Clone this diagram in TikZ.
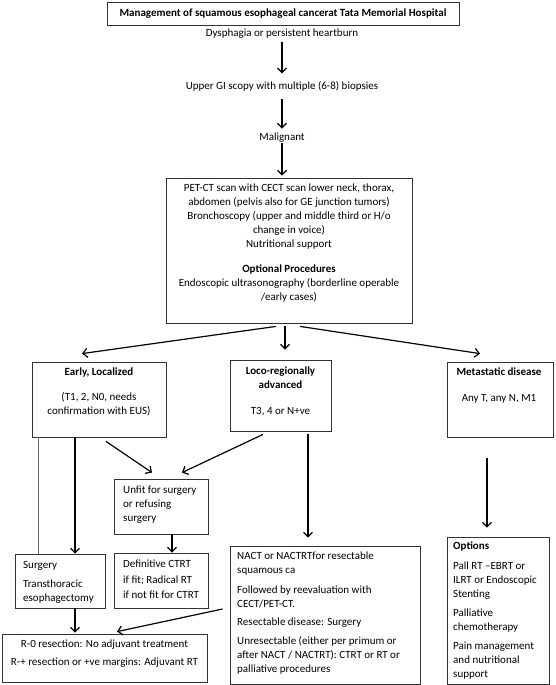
\documentclass[tikz,border=0pt]{standalone}
\usepackage{fontspec}
\setmainfont{Carlito}
\usetikzlibrary{arrows.meta}
\begin{document}
\begin{tikzpicture}[x=1pt,y=-1pt,
  box/.style={draw=black!80, line width=0.8pt, inner sep=0pt},
  txt/.style={inner sep=0pt, font=\fontsize{11pt}{14pt}\selectfont},
  txtw/.style={inner sep=0pt, font=\fontsize{11pt}{15.3pt}\selectfont},
  arr/.style={draw=black, line width=1.2pt, -{Straight Barb[length=4.5pt,width=9pt,line width=1.2pt]}},
  thinline/.style={draw=black!60, line width=0.8pt}]
\useasboundingbox[fill=white] (0,0) rectangle (555,685);

% title and top chain
\node[box, minimum width=352pt, minimum height=23pt, font=\fontsize{11pt}{14pt}\selectfont\bfseries] (title) at (283,13.5) {Management of squamous esophageal cancerat Tata Memorial Hospital};
\node[txt] (dys) at (282,34) {Dysphagia or persistent heartburn};
\node[txt] (ugi) at (282,86) {Upper GI scopy with multiple (6-8) biopsies};
\node[txt] (mal) at (282,138) {Malignant};

% big box
\node[box, minimum width=246pt, minimum height=145pt] (big) at (289,250.5) {};
\node[txt, align=center, anchor=north] (bigT) at (289,184) {PET-CT scan with CECT scan lower neck, thorax,\\abdomen (pelvis also for GE junction tumors)\\Bronchoscopy (upper and middle third or H/o\\change in voice)\\Nutritional support\\[11pt]\textbf{Optional Procedures}\\Endoscopic ultrasonography (borderline operable\\/early cases)};

% second row
\node[box, minimum width=134pt, minimum height=75pt] (early) at (99,399.5) {};
\node[txt, align=center, anchor=north] (earlyT) at (99,368) {\textbf{Early, Localized}\\[11pt](T1, 2, N0, needs\\confirmation with EUS)};
\node[box, minimum width=101pt, minimum height=71pt] (loco) at (280.5,395.5) {};
\node[txt, align=center, anchor=north] (locoT) at (280.5,367) {\textbf{Loco-regionally}\\\textbf{advanced}\\[12pt]T3, 4 or N+ve};
\node[box, minimum width=106pt, minimum height=75pt] (meta) at (500,399.5) {};
\node[txt, align=center, anchor=north] (metaT) at (499,368) {\textbf{Metastatic disease}\\[12pt]Any T, any N, M1};

% third row
\node[box, minimum width=94pt, minimum height=55pt] (unfit) at (161,506.5) {};
\node[txt, align=left, anchor=north west] (unfitT) at (123,486) {Unfit for surgery\\or refusing\\surgery};
\node[box, minimum width=94pt, minimum height=55pt] (def) at (161,580.5) {};
\node[txtw, align=left, anchor=north west] (defT) at (123,560) {Definitive CTRT\\if fit; Radical RT\\if not fit for CTRT};
\node[box, minimum width=90pt, minimum height=54pt] (surg) at (60,581) {};
\node[txt, align=left, anchor=north west] (surgT) at (23,561) {Surgery\\[5pt]Transthoracic\\esophagectomy};
\node[box, minimum width=205pt, minimum height=48pt] (r0) at (104.5,658) {};
\node[txt, align=center, anchor=north] (r0T) at (104.5,640) {R-0 resection: No adjuvant treatment\\[4pt]R-+ resection or +ve margins: Adjuvant RT};
\node[box, minimum width=190pt, minimum height=138pt] (nact) at (325,615) {};
\node[txt, align=left, anchor=north west] (nactT) at (237,552) {NACT or NACTRTfor resectable\\squamous ca\\[6pt]Followed by reevaluation with\\CECT/PET-CT.\\[4pt]Resectable disease: Surgery\\[5pt]Unresectable (either per primum or\\after NACT / NACTRT): CTRT or RT or\\palliative procedures};
\node[box, minimum width=102pt, minimum height=147pt] (opt) at (498,610.5) {};
\node[txt, align=left, anchor=north west] (optT) at (453,542) {\textbf{Options}\\[6pt]Pall RT –EBRT or\\ILRT or Endoscopic\\Stenting\\[5pt]Palliative\\chemotherapy\\[5pt]Pain management\\and nutritional\\support};

% connectors
\draw[arr, shorten <=3pt, shorten >=7.5pt] (dys.south) -- (ugi.north);
\draw[arr, shorten <=7.5pt, shorten >=4.5pt] (ugi.south) -- (mal.north);
\draw[arr, shorten >=2pt] (mal.south) -- (big.north -| mal.south);
\draw[arr] ([xshift=-13pt,yshift=-3pt]big.south) -- ([xshift=-17pt,yshift=8pt]early.north);
\draw[arr] ([xshift=-4pt,yshift=-3pt]big.south) -- ([xshift=4.5pt,yshift=10pt]loco.north);
\draw[arr] ([xshift=11pt,yshift=-3pt]big.south) -- ([xshift=-20pt,yshift=8pt]meta.north);
\draw[thinline] ([xshift=-61pt]early.south) -- ([xshift=-22pt]surg.north);
\draw[arr] ([xshift=-24pt]early.south) -- ([xshift=15pt]surg.north);
\draw[arr] ([xshift=7pt,yshift=-4pt]early.south) -- ([xshift=-9pt,yshift=6pt]unfit.north);
\draw[arr] ([xshift=-17.5pt,yshift=-3pt]loco.south) -- ([xshift=21pt,yshift=6pt]unfit.north);
\draw[arr] ([xshift=27.5pt,yshift=-3pt]loco.south) -- ([xshift=-17pt,yshift=8pt]nact.north);
\draw[arr] ([xshift=-13pt,yshift=-21pt]meta.south) -- ([xshift=-11pt,yshift=9pt]opt.north);
\draw[arr] ([xshift=11pt]unfit.south) -- ([xshift=11pt]def.north);
\draw[arr] ([xshift=15pt]surg.south) -- ([xshift=-29.5pt,yshift=1pt]r0.north);
\draw[arr] ([xshift=-7pt,yshift=6pt]nact.west) -- ([xshift=12.5pt,yshift=2pt]r0.north);
\end{tikzpicture}
\end{document}
